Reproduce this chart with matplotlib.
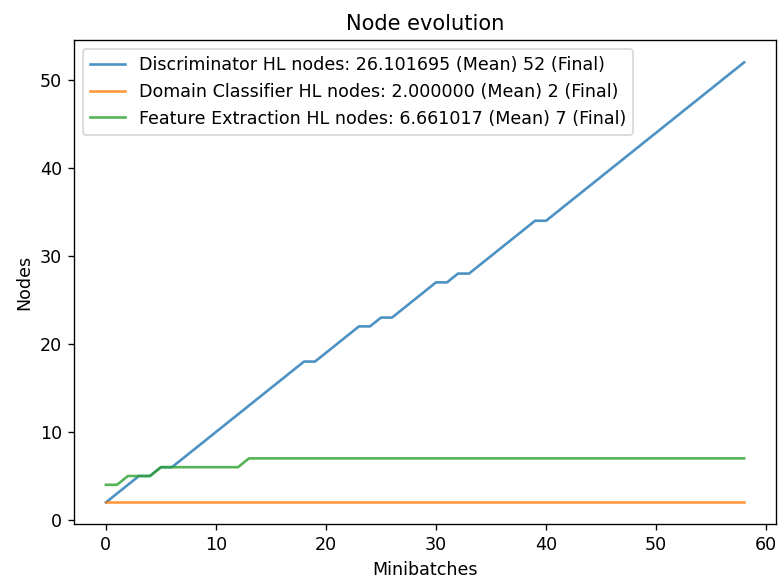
import numpy as np
import matplotlib
matplotlib.use("Agg")
from matplotlib import pyplot as plt

DPI = 122
SCALE = 1.033

plt.rcParams['font.size'] = 10 * SCALE
plt.rcParams['lines.linewidth'] = 1.5 * SCALE

minibatches = np.arange(59)

discriminator_nodes = [2, 3, 4, 5, 5, 6, 6, 7, 8, 9, 10, 11, 12, 13, 14, 15, 16, 17, 18,
                       18, 19, 20, 21, 22, 22, 23, 23, 24, 25, 26, 27, 27, 28, 28,
                       29, 30, 31, 32, 33, 34, 34, 35, 36, 37, 38, 39, 40, 41, 42,
                       43, 44, 45, 46, 47, 48, 49, 50, 51, 52]
domain_classifier_nodes = [2] * 59
feature_extraction_nodes = [4, 4, 5, 5, 5] + [6] * 8 + [7] * 46

series = [
    ("Discriminator", discriminator_nodes),
    ("Domain Classifier", domain_classifier_nodes),
    ("Feature Extraction", feature_extraction_nodes),
]


def plot_nodes():
    fig = plt.figure(figsize=(780 / DPI, 579 / DPI), dpi=DPI)
    ax = fig.add_axes([0.0949, 0.0943, 0.9, 0.836])

    for name, nodes in series:
        label = '{} HL nodes: {:f} (Mean) {:d} (Final)'.format(
            name, np.mean(nodes), nodes[-1])
        ax.plot(minibatches, nodes, alpha=0.8, label=label)

    ax.set_title('Node evolution')
    ax.set_xlabel('Minibatches')
    ax.set_ylabel('Nodes')
    ax.legend(loc="upper left")
    fig.savefig('out.png', dpi=DPI)


if __name__ == "__main__":
    plot_nodes()
